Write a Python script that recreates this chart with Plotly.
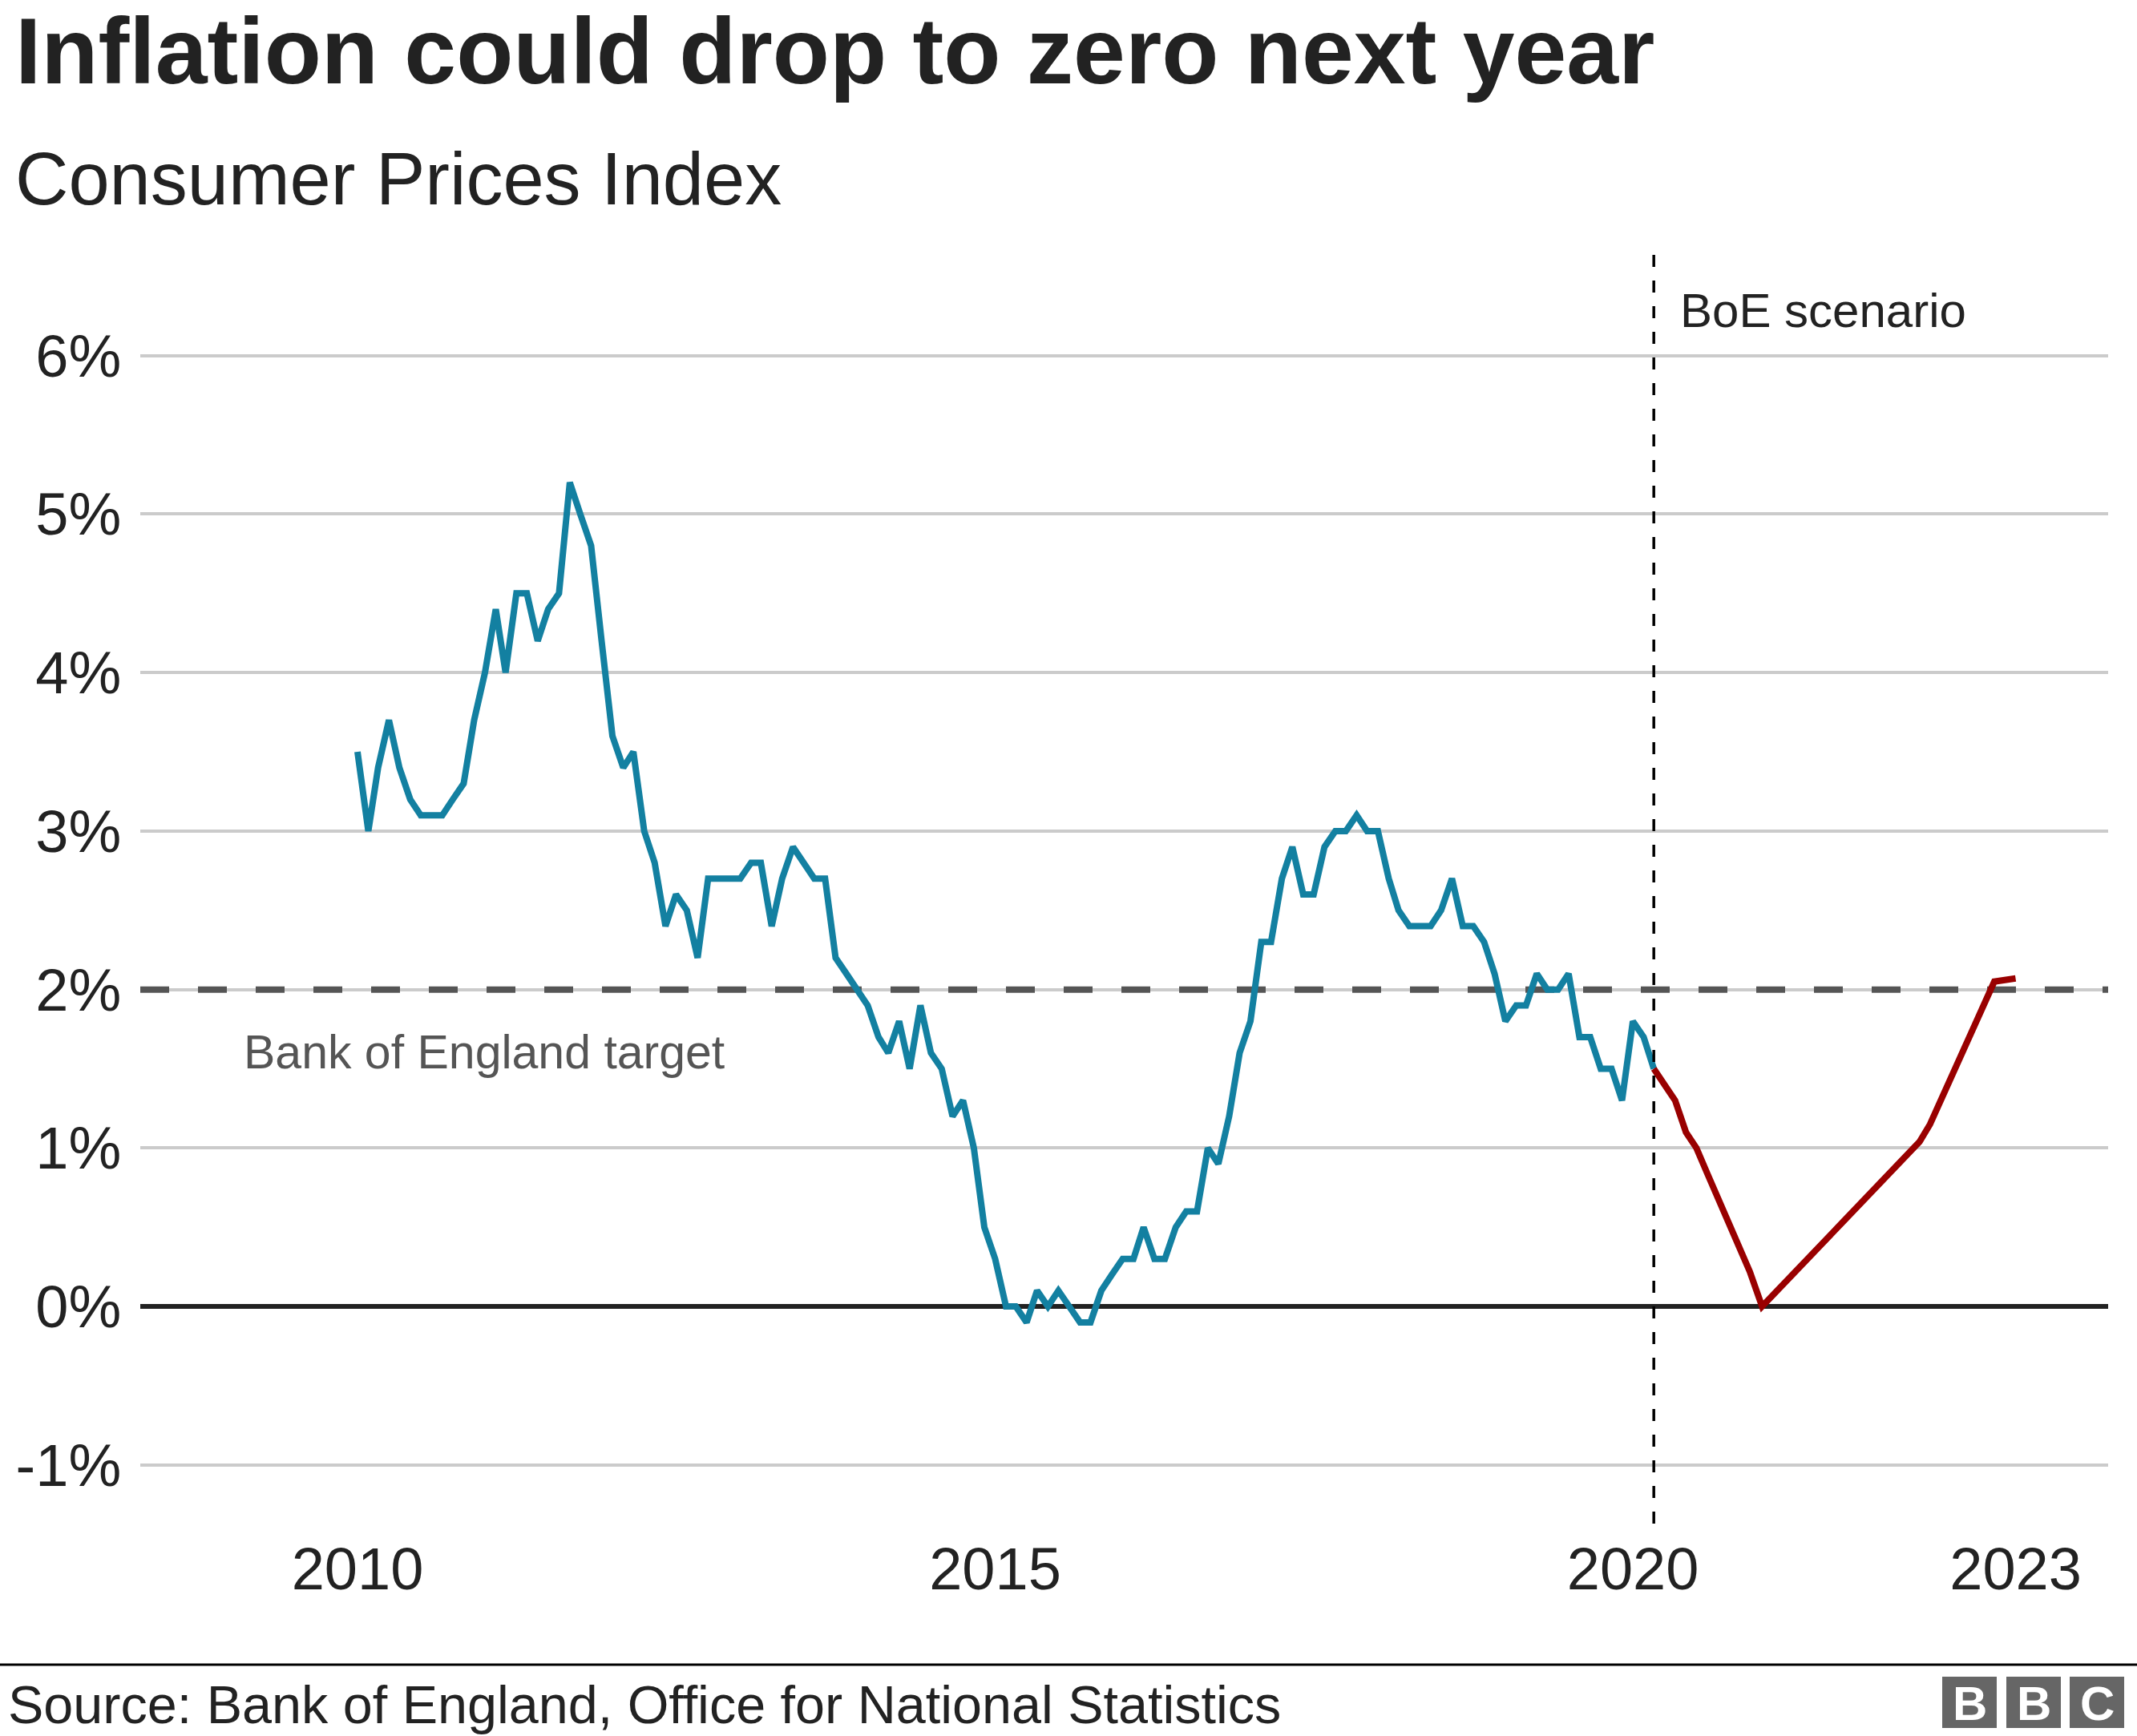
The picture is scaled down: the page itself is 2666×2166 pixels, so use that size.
import pandas as pd
import plotly.graph_objects as go

# ---- Data ----
cpi_values = [
    3.5, 3.0, 3.4, 3.7, 3.4, 3.2, 3.1, 3.1, 3.1, 3.2, 3.3, 3.7,   # 2010
    4.0, 4.4, 4.0, 4.5, 4.5, 4.2, 4.4, 4.5, 5.2, 5.0, 4.8, 4.2,   # 2011
    3.6, 3.4, 3.5, 3.0, 2.8, 2.4, 2.6, 2.5, 2.2, 2.7, 2.7, 2.7,   # 2012
    2.7, 2.8, 2.8, 2.4, 2.7, 2.9, 2.8, 2.7, 2.7, 2.2, 2.1, 2.0,   # 2013
    1.9, 1.7, 1.6, 1.8, 1.5, 1.9, 1.6, 1.5, 1.2, 1.3, 1.0, 0.5,   # 2014
    0.3, 0.0, 0.0, -0.1, 0.1, 0.0, 0.1, 0.0, -0.1, -0.1, 0.1, 0.2,  # 2015
    0.3, 0.3, 0.5, 0.3, 0.3, 0.5, 0.6, 0.6, 1.0, 0.9, 1.2, 1.6,   # 2016
    1.8, 2.3, 2.3, 2.7, 2.9, 2.6, 2.6, 2.9, 3.0, 3.0, 3.1, 3.0,   # 2017
    3.0, 2.7, 2.5, 2.4, 2.4, 2.4, 2.5, 2.7, 2.4, 2.4, 2.3, 2.1,   # 2018
    1.8, 1.9, 1.9, 2.1, 2.0, 2.0, 2.1, 1.7, 1.7, 1.5, 1.5, 1.3,   # 2019
    1.8, 1.7, 1.5,                                                # 2020
]
cpi_dates = pd.date_range("2010-01-01", periods=len(cpi_values), freq="MS")

scenario_dates = ["2020-03-01", "2020-05-01", "2020-06-01", "2020-07-01", "2020-08-01",
                  "2020-12-01", "2021-01-05", "2022-04-01", "2022-05-01", "2022-11-01",
                  "2023-01-01"]
scenario_values = [1.5, 1.3, 1.1, 1.0, 0.84, 0.22, 0.0, 1.04, 1.15, 2.05, 2.07]

y_ticks = [-1, 0, 1, 2, 3, 4, 5, 6]
y_labels = ["-1%", "0%", "1%", "2%", "3%", "4%", "5%", "6%"]
x_ticks = ["2010-01-01", "2015-01-01", "2020-01-01", "2023-01-01"]
x_labels = ["2010", "2015", "2020", "2023"]
x_range = ["2008-04-19", "2023-09-23"]
target = 2
scenario_start = "2020-03-01"

# ---- Layout geometry (pixels) ----
W, H = 2666, 2166
L, R, T, B = 175, 2630, 315, 1901
PW, PH = R - L, B - T


def px(x):
    return (x - L) / PW


def py(y):
    return (B - y) / PH


FONT = "Liberation Sans, Arial, Helvetica, sans-serif"
BLUE = "#1380A1"
RED = "#990000"

fig = go.Figure()
# Bank of England target (drawn first so data lines sit above it)
fig.add_trace(go.Scatter(x=x_range, y=[target, target], mode="lines",
                         line=dict(color="#555555", width=8, dash="36px,36px"),
                         hoverinfo="skip"))
fig.add_trace(go.Scatter(x=cpi_dates, y=cpi_values, mode="lines",
                         line=dict(color=BLUE, width=8), hoverinfo="skip"))
fig.add_trace(go.Scatter(x=scenario_dates, y=scenario_values, mode="lines",
                         line=dict(color=RED, width=8), hoverinfo="skip"))

shapes = [
    # scenario vertical line
    dict(type="line", xref="x", yref="paper", x0=scenario_start, x1=scenario_start,
         y0=0, y1=1, line=dict(color="#000000", width=3.5, dash="15px,17px"), layer="above"),
    # footer rule
    dict(type="line", xref="paper", yref="paper", x0=px(0), x1=px(W), y0=py(2077), y1=py(2077),
         line=dict(color="#000000", width=3)),
]
logo_boxes = [(2423, 2491), (2503, 2571), (2582, 2650)]
for x0, x1 in logo_boxes:
    shapes.append(dict(type="rect", xref="paper", yref="paper",
                       x0=px(x0), x1=px(x1), y0=py(2156), y1=py(2092),
                       fillcolor="#666666", line=dict(width=0)))

annotations = [
    dict(text="<b>Inflation could drop to zero next year</b>", x=px(17), y=py(64),
         font=dict(size=116.5, color="#222222", family=FONT)),
    dict(text="Consumer Prices Index", x=px(17), y=py(223),
         font=dict(size=92, color="#222222", family=FONT)),
    dict(text="BoE scenario", x=px(2094), y=py(388),
         font=dict(size=60, color="#222222", family=FONT)),
    dict(text="Bank of England target", x=px(302), y=py(1313),
         font=dict(size=59, color="#555555", family=FONT)),
    dict(text="Source: Bank of England, Office for National Statistics", x=px(8), y=py(2127),
         font=dict(size=66.5, color="#222222", family=FONT)),
]
for a in annotations:
    a.update(xref="paper", yref="paper", xanchor="left", yanchor="middle",
             showarrow=False, align="left")
for (x0, x1), letter in zip(logo_boxes, ["B", "B", "C"]):
    annotations.append(dict(text="<b>" + letter + "</b>", x=px((x0 + x1) / 2), y=py(2125),
                            xref="paper", yref="paper", xanchor="center", yanchor="middle",
                            showarrow=False, font=dict(size=60, color="#ffffff", family=FONT)))

fig.update_layout(
    width=W, height=H,
    margin=dict(l=L, r=W - R, t=T, b=H - B, autoexpand=False),
    paper_bgcolor="white", plot_bgcolor="white",
    showlegend=False,
    shapes=shapes, annotations=annotations,
    font=dict(family=FONT, color="#222222"),
)
fig.update_xaxes(type="date", range=x_range,
                 tickvals=x_ticks, ticktext=x_labels,
                 showgrid=False, zeroline=False, showline=False,
                 ticks="outside", ticklen=30, tickcolor="rgba(0,0,0,0)",
                 ticklabelstandoff=-38,
                 tickfont=dict(size=74, color="#222222", family=FONT))
fig.update_yaxes(range=[-1.37, 6.651], tickvals=y_ticks, ticktext=y_labels,
                 showgrid=True, gridcolor="#cbcbcb", gridwidth=4,
                 zeroline=True, zerolinecolor="#222222", zerolinewidth=6,
                 showline=False, ticks="outside", ticklen=8, tickcolor="rgba(0,0,0,0)",
                 tickfont=dict(size=74, color="#222222", family=FONT))

fig.write_html("out.html", config={"displayModeBar": False},
               post_script="document.body.style.margin='0';")
